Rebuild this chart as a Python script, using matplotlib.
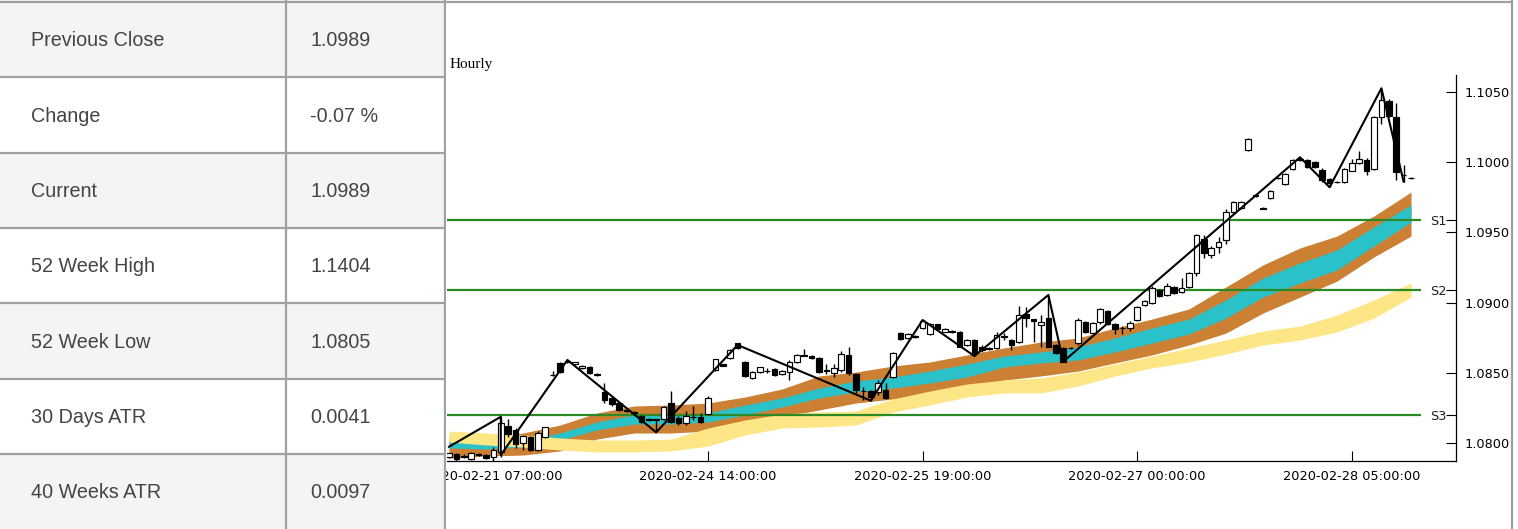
import matplotlib
matplotlib.use("Agg")
import matplotlib.pyplot as plt
from matplotlib.patches import Rectangle
import numpy as np

# ---------------- data ----------------
table_labels = ["Previous Close", "Change", "Current", "52 Week High",
                "52 Week Low", "30 Days ATR", "40 Weeks ATR"]
table_values = ["1.0989", "-0.07 %", "1.0989", "1.1404", "1.0805", "0.0041", "0.0097"]

opens = [1.07896, 1.07917, 1.07902, 1.07886, 1.07922, 1.07912, 1.07900, 1.07936, 1.08119, 1.08091,
         1.08000, 1.08043, 1.07948, 1.08043, 1.08484, 1.08566, 1.08574, 1.08559, 1.08530, 1.08542,
         1.08490, 1.08364, 1.08319, 1.08281, 1.08233, 1.08219, 1.08190, 1.08167, 1.08169, 1.08167,
         1.08281, 1.08174, 1.08143, 1.08181, 1.08186, 1.08202, 1.08519, 1.08558, 1.08602, 1.08709,
         1.08578, 1.08462, 1.08506, 1.08515, 1.08526, 1.08490, 1.08506, 1.08578, 1.08626, 1.08620,
         1.08602, 1.08516, 1.08495, 1.08519, 1.08626, 1.08490, 1.08369, 1.08369, 1.08359, 1.08376,
         1.08471, 1.08780, 1.08745, 1.08758, 1.08816, 1.08773, 1.08844, 1.08792, 1.08794, 1.08792,
         1.08698, 1.08733, 1.08685, 1.08673, 1.08673, 1.08758, 1.08733, 1.08720, 1.08915, 1.08880,
         1.08840, 1.08887, 1.08697, 1.08673, 1.08676, 1.08709, 1.08858, 1.08780, 1.08858, 1.08937,
         1.08847, 1.08818, 1.08816, 1.08875, 1.08982, 1.08994, 1.09089, 1.09054, 1.09108, 1.09077,
         1.09113, 1.09208, 1.09451, 1.09339, 1.09398, 1.09446, 1.09648, 1.09672, 1.10085, 1.09767,
         1.09674, 1.09747, 1.09888, 1.09845, 1.09950, 1.10020, 1.10016, 1.10004, 1.09946, 1.09881,
         1.09862, 1.09862, 1.09940, 1.09997, 1.10016, 1.09950, 1.10321, 1.10439, 1.10325, 1.09912,
         1.09888]
highs = [1.07930, 1.07924, 1.07917, 1.07932, 1.07929, 1.07920, 1.07967, 1.08183, 1.08169, 1.08105,
         1.08055, 1.08050, 1.08080, 1.08115, 1.08514, 1.08578, 1.08590, 1.08578, 1.08552, 1.08547,
         1.08494, 1.08424, 1.08326, 1.08290, 1.08238, 1.08224, 1.08198, 1.08176, 1.08172, 1.08262,
         1.08371, 1.08190, 1.08226, 1.08262, 1.08211, 1.08330, 1.08600, 1.08562, 1.08668, 1.08712,
         1.08583, 1.08510, 1.08540, 1.08530, 1.08530, 1.08518, 1.08590, 1.08633, 1.08668, 1.08626,
         1.08608, 1.08561, 1.08561, 1.08657, 1.08680, 1.08495, 1.08399, 1.08375, 1.08447, 1.08424,
         1.08650, 1.08790, 1.08780, 1.08765, 1.08875, 1.08851, 1.08850, 1.08815, 1.08805, 1.08798,
         1.08740, 1.08738, 1.08695, 1.08685, 1.08790, 1.08780, 1.08740, 1.08975, 1.08970, 1.08885,
         1.08911, 1.09054, 1.08705, 1.08680, 1.08680, 1.08890, 1.08865, 1.08858, 1.08960, 1.08945,
         1.08855, 1.08830, 1.08865, 1.08978, 1.09020, 1.09120, 1.09095, 1.09140, 1.09115, 1.09173,
         1.09220, 1.09490, 1.09480, 1.09405, 1.09470, 1.09670, 1.09725, 1.09725, 1.10175, 1.09772,
         1.09678, 1.09800, 1.09893, 1.09925, 1.10022, 1.10036, 1.10022, 1.10010, 1.09960, 1.09885,
         1.09866, 1.09956, 1.10023, 1.10083, 1.10030, 1.10330, 1.10528, 1.10450, 1.10420, 1.09980,
         1.09893]
lows = [1.07890, 1.07862, 1.07888, 1.07880, 1.07905, 1.07884, 1.07865, 1.07900, 1.08043, 1.07960,
        1.07948, 1.07941, 1.07941, 1.08036, 1.08478, 1.08499, 1.08566, 1.08555, 1.08526, 1.08490,
        1.08478, 1.08281, 1.08262, 1.08226, 1.08222, 1.08210, 1.08140, 1.08155, 1.08078, 1.08160,
        1.08140, 1.08126, 1.08126, 1.08162, 1.08140, 1.08195, 1.08512, 1.08544, 1.08598, 1.08668,
        1.08469, 1.08455, 1.08500, 1.08500, 1.08478, 1.08486, 1.08447, 1.08572, 1.08618, 1.08598,
        1.08500, 1.08490, 1.08469, 1.08505, 1.08483, 1.08352, 1.08305, 1.08300, 1.08340, 1.08312,
        1.08462, 1.08730, 1.08740, 1.08750, 1.08810, 1.08766, 1.08805, 1.08788, 1.08780, 1.08680,
        1.08690, 1.08618, 1.08650, 1.08660, 1.08665, 1.08730, 1.08662, 1.08710, 1.08827, 1.08720,
        1.08685, 1.08680, 1.08630, 1.08578, 1.08668, 1.08700, 1.08785, 1.08772, 1.08850, 1.08840,
        1.08775, 1.08775, 1.08800, 1.08868, 1.08975, 1.08988, 1.09040, 1.09048, 1.09060, 1.09066,
        1.09105, 1.09190, 1.09315, 1.09315, 1.09351, 1.09420, 1.09640, 1.09665, 1.10080, 1.09755,
        1.09666, 1.09740, 1.09880, 1.09838, 1.09944, 1.10010, 1.09960, 1.09958, 1.09860, 1.09822,
        1.09856, 1.09856, 1.09935, 1.09990, 1.09909, 1.09945, 1.10275, 1.10325, 1.09874, 1.09862,
        1.09882]
closes = [1.07924, 1.07884, 1.07900, 1.07929, 1.07910, 1.07889, 1.07948, 1.08143, 1.08060, 1.07989,
          1.08050, 1.07948, 1.08071, 1.08110, 1.08483, 1.08506, 1.08580, 1.08573, 1.08547, 1.08495,
          1.08481, 1.08305, 1.08274, 1.08233, 1.08226, 1.08215, 1.08150, 1.08165, 1.08165, 1.08252,
          1.08150, 1.08138, 1.08190, 1.08183, 1.08150, 1.08321, 1.08595, 1.08547, 1.08661, 1.08673,
          1.08476, 1.08506, 1.08537, 1.08512, 1.08483, 1.08514, 1.08573, 1.08626, 1.08622, 1.08602,
          1.08506, 1.08512, 1.08530, 1.08633, 1.08495, 1.08376, 1.08366, 1.08328, 1.08424, 1.08321,
          1.08638, 1.08737, 1.08773, 1.08756, 1.08868, 1.08844, 1.08811, 1.08811, 1.08792, 1.08685,
          1.08733, 1.08638, 1.08661, 1.08670, 1.08768, 1.08756, 1.08697, 1.08911, 1.08887, 1.08866,
          1.08858, 1.08685, 1.08640, 1.08578, 1.08672, 1.08875, 1.08792, 1.08851, 1.08953, 1.08850,
          1.08808, 1.08816, 1.08851, 1.08970, 1.09012, 1.09101, 1.09046, 1.09118, 1.09066, 1.09101,
          1.09213, 1.09482, 1.09351, 1.09387, 1.09434, 1.09648, 1.09719, 1.09719, 1.10169, 1.09760,
          1.09670, 1.09794, 1.09885, 1.09917, 1.10016, 1.10025, 1.09964, 1.09964, 1.09874, 1.09855,
          1.09860, 1.09950, 1.09997, 1.10021, 1.09940, 1.10325, 1.10444, 1.10330, 1.09933, 1.09908,
          1.09885]

# zigzag pivots (candle index, price)
zigzag_idx = [0, 7, 7, 16, 28, 39, 57, 64, 71, 81, 83, 115, 119, 126, 129]
zigzag_price = [1.07971, 1.08185, 1.07912, 1.08590, 1.08074, 1.08697, 1.08300, 1.08875,
                1.08618, 1.09054, 1.08578, 1.10036, 1.09822, 1.10528, 1.09862]

# moving-average envelopes, sampled every 5 candles
band_idx = [0, 5, 10, 15, 20, 25, 30, 35, 40, 45, 50, 55, 60, 65, 70, 75, 80, 85, 90,
            95, 100, 105, 110, 115, 120, 125, 130]
brown_top = [1.08041, 1.08034, 1.08069, 1.08126, 1.08212, 1.08262, 1.08269, 1.08283, 1.08326,
             1.08383, 1.08476, 1.08504, 1.08547, 1.08576, 1.08626, 1.08676, 1.08718, 1.08747,
             1.08818, 1.08882, 1.08954, 1.09111, 1.09268, 1.09389, 1.09474, 1.09617, 1.09788]
cyan_top = [1.08005, 1.07991, 1.08012, 1.08069, 1.08148, 1.08198, 1.08198, 1.08212, 1.08269,
            1.08319, 1.08390, 1.08440, 1.08469, 1.08511, 1.08561, 1.08618, 1.08647, 1.08683,
            1.08747, 1.08818, 1.08882, 1.09018, 1.09175, 1.09282, 1.09375, 1.09539, 1.09696]
cyan_bottom = [1.07962, 1.07955, 1.07969, 1.08019, 1.08091, 1.08133, 1.08133, 1.08148, 1.08198,
               1.08255, 1.08319, 1.08362, 1.08390, 1.08426, 1.08469, 1.08540, 1.08569, 1.08590,
               1.08647, 1.08711, 1.08775, 1.08889, 1.09039, 1.09139, 1.09232, 1.09403, 1.09574]
brown_bottom = [1.07891, 1.07905, 1.07912, 1.07941, 1.08026, 1.08069, 1.08069, 1.08083, 1.08126,
                1.08183, 1.08233, 1.08283, 1.08312, 1.08340, 1.08390, 1.08447, 1.08476, 1.08511,
                1.08569, 1.08626, 1.08697, 1.08782, 1.08925, 1.09039, 1.09153, 1.09325, 1.09474]
yellow_top = [1.08083, 1.08069, 1.08055, 1.08034, 1.08019, 1.08019, 1.08026, 1.08105, 1.08162,
              1.08205, 1.08219, 1.08226, 1.08312, 1.08369, 1.08419, 1.08447, 1.08462, 1.08504,
              1.08561, 1.08618, 1.08676, 1.08733, 1.08797, 1.08832, 1.08911, 1.09018, 1.09139]
yellow_bottom = [1.08005, 1.07984, 1.07969, 1.07948, 1.07934, 1.07934, 1.07941, 1.07976, 1.08055,
                 1.08105, 1.08112, 1.08126, 1.08219, 1.08269, 1.08326, 1.08355, 1.08355, 1.08404,
                 1.08476, 1.08533, 1.08576, 1.08633, 1.08697, 1.08733, 1.08790, 1.08889, 1.09039]

support_names = ["S1", "S2", "S3"]
support_levels = [1.0959, 1.0909, 1.0820]

price_ticks = [1.0800, 1.0850, 1.0900, 1.0950, 1.1000, 1.1050]
xtick_idx = [6, 35, 64, 93, 122]
xtick_labels = ["2020-02-21 07:00:00", "2020-02-24 14:00:00", "2020-02-25 19:00:00",
                "2020-02-27 00:00:00", "2020-02-28 05:00:00"]

# ---------------- figure ----------------
W, H, DPI = 1518, 529, 100
fig = plt.figure(figsize=(W / DPI, H / DPI), dpi=DPI)
fig.patch.set_facecolor("white")

frame_col = "#a0a0a0"
bg = fig.add_axes([0, 0, 1, 1], zorder=0)
bg.set_xlim(0, W)
bg.set_ylim(H, 0)
bg.axis("off")
bg.plot([440, 1512], [2, 2], color=frame_col, lw=1.6, solid_capstyle="butt")
bg.plot([1511.5, 1511.5], [0, H], color=frame_col, lw=1.6, solid_capstyle="butt")

# main chart axes
ax = fig.add_axes([447 / W, (H - 461) / H, (1456 - 447) / W, (461 - 75) / H], zorder=1)
ax2 = ax.twinx()   # support-level labels (created first: twinx moves ax ticks left)

idx = np.arange(len(opens))
o = np.array(opens); h = np.array(highs); l = np.array(lows); c = np.array(closes)

ax.fill_between(band_idx, brown_bottom, brown_top, color="#CB8034", lw=0, zorder=1)
ax.fill_between(band_idx, cyan_bottom, cyan_top, color="#2BC1C8", lw=0, zorder=1.1)
ax.fill_between(band_idx, yellow_bottom, yellow_top, color="#FDE685", lw=0, zorder=1.2)

xmin_view, xmax_view = -0.27, 136.08
ax.hlines(support_levels, xmin_view, len(opens) + 0.3, colors="#2b8a23", lw=1.6, zorder=2)

ax.vlines(idx, l, h, color="black", lw=1.0, zorder=3)
up = c >= o
ax.bar(idx, np.abs(c - o), bottom=np.minimum(o, c), width=0.74,
       color=np.where(up, "white", "black"), edgecolor="black", linewidth=0.85, zorder=3.5)

ax.plot(zigzag_idx, zigzag_price, color="black", lw=1.5, zorder=4)

ax.set_xlim(xmin_view, xmax_view)
ax.set_ylim(1.078695, 1.106228)
ax.spines["top"].set_visible(False)
ax.spines["left"].set_visible(False)
ax.spines["right"].set_linewidth(0.9)
ax.spines["bottom"].set_linewidth(0.9)
ax.yaxis.tick_right()
ax.yaxis.set_label_position("right")
ax.set_yticks(price_ticks)
ax.set_yticklabels([f"{v:.4f}" for v in price_ticks])
ax.tick_params(axis="y", which="both", left=False, labelleft=False, right=True, labelright=True,
               direction="in", length=7, width=0.8, pad=6.5, labelsize=9.3)
ax.set_xticks(xtick_idx)
ax.set_xticklabels(xtick_labels)
ax.tick_params(axis="x", direction="in", length=7, width=0.8, pad=6.5, labelsize=9.3)

ax2.set_ylim(ax.get_ylim())
ax2.set_yticks(support_levels)
ax2.set_yticklabels(support_names, ha="right")
ax2.tick_params(axis="y", direction="in", length=7, width=0.8, pad=-6.5, labelsize=9.3,
                labelcolor="#222222")
for s in ax2.spines.values():
    s.set_visible(False)

fig.text(450 / W, 1 - 68 / H, "Hourly", family="Liberation Serif", fontsize=11,
         ha="left", va="baseline")

# left info table
tax = fig.add_axes([0, 0, 446 / W, 1], zorder=5)
tax.set_xlim(0, 446)
tax.set_ylim(H, 0)
tax.axis("off")
row_edges = [0, 77, 152.5, 228, 303, 378.5, 454, 529]
for k, (lab, val) in enumerate(zip(table_labels, table_values)):
    top, bot = row_edges[k], row_edges[k + 1]
    tax.add_patch(Rectangle((0, top), 446, bot - top,
                            facecolor="#f4f4f4" if k % 2 == 0 else "white", edgecolor="none"))
    yc = (max(top, 2) + bot) / 2 + 1.5
    tax.text(31, yc, lab, family="Liberation Sans", fontsize=14.2, color="#444444",
             ha="left", va="center")
    tax.text(310, yc, val, family="Liberation Sans", fontsize=14.2, color="#444444",
             ha="left", va="center")
line_kw = dict(color=frame_col, lw=1.6, solid_capstyle="butt")
tax.plot([0, 446], [2, 2], **line_kw)
for y in row_edges[1:-1]:
    tax.plot([0, 446], [y, y], **line_kw)
tax.plot([286, 286], [0, H], **line_kw)
tax.plot([444.5, 444.5], [0, H], **line_kw)

fig.savefig("out.png", dpi=DPI, facecolor="white")
